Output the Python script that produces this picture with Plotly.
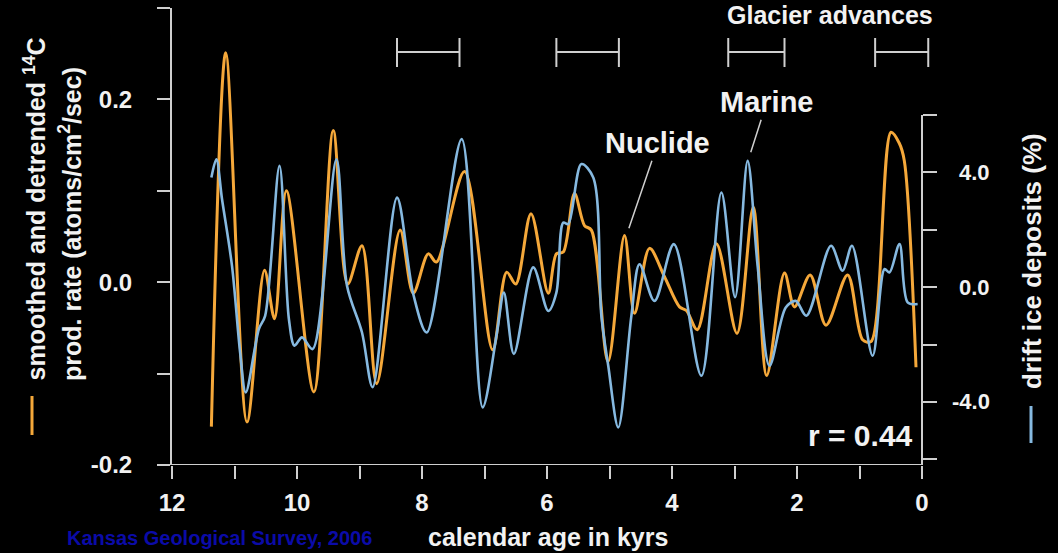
import plotly.graph_objects as go

# ---------------- data ----------------
nuclide_age = [11.37, 11.14, 10.80, 10.52, 10.36, 10.17, 9.73, 9.42, 9.19, 8.96,
               8.725, 8.35, 8.14, 7.90, 7.77, 7.32, 6.87, 6.645, 6.50, 6.256,
               5.98, 5.85, 5.74, 5.56, 5.40, 5.29, 5.024, 4.76, 4.60, 4.36,
               4.12, 3.88, 3.77, 3.595, 3.29, 2.96, 2.70, 2.485, 2.20, 2.04,
               1.79, 1.536, 1.19, 0.95, 0.816, 0.496, 0.363, 0.283, 0.096]
nuclide_rate = [-0.158, 0.251, -0.153, 0.013, -0.040, 0.100, -0.120, 0.166, -0.002, 0.040,
                -0.111, 0.057, -0.012, 0.031, 0.022, 0.121, -0.074, 0.011, -0.002, 0.075,
                -0.012, 0.031, 0.033, 0.097, 0.062, 0.057, -0.087, 0.051, -0.034, 0.037,
                0.006, -0.027, -0.031, -0.052, 0.042, -0.056, 0.082, -0.102, 0.010, -0.027,
                0.008, -0.047, 0.008, -0.063, -0.065, 0.164, 0.152, 0.133, -0.093]

marine_age = [11.37, 11.29, 11.20, 11.04, 10.91, 10.82, 10.61, 10.51, 10.28, 10.13,
              10.04, 9.92, 9.75, 9.37, 9.20, 8.96, 8.79, 8.40, 8.14, 7.925,
              7.365, 7.03, 6.80, 6.69, 6.53, 6.22, 5.98, 5.85, 5.74, 5.66,
              5.45, 5.26, 5.13, 5.02, 4.86, 4.65, 4.52, 4.28, 3.97, 3.53,
              3.21, 2.99, 2.79, 2.63, 2.44, 2.18, 2.02, 1.85, 1.456, 1.27,
              1.12, 0.79, 0.60, 0.52, 0.36, 0.23, 0.07]
marine_ice = [3.82, 4.46, 3.07, 0.74, -2.28, -3.67, -1.46, -1.00, 4.23, -1.11,
              -2.04, -1.75, -2.16, 4.46, 0.05, -1.58, -3.49, 3.12, -0.24, -1.58,
              5.16, -4.19, -1.58, -0.19, -2.33, 0.69, -0.83, -0.19, 2.25, 2.20,
              4.29, 3.82, -1.00, -2.74, -4.89, -1.00, 0.80, -0.48, 1.50, -3.09,
              3.30, -0.35, 4.40, 0.74, -2.74, -0.71, -0.48, -1.00, 1.44, 0.57,
              1.44, -2.39, 0.63, 0.51, 1.50, -0.53, -0.59]

glacier_start = [8.4, 5.85, 3.1, 0.75]
glacier_end = [7.4, 4.85, 2.2, -0.1]

x_tickvals = [0, 2, 4, 6, 8, 10, 12]
x_ticktext = ["0", "2", "4", "6", "8", "10", "12"]
left_tickvals = [-0.2, 0.0, 0.2]
left_ticktext = ["-0.2", "0.0", "0.2"]
right_tickvals = [-6, -4, -2, 0, 2, 4, 6]
right_labelvals = [-4, 0, 4]
right_labeltext = ["-4.0", "0.0", "4.0"]
correlation = 0.44

# ---------------- style ----------------
W, H = 1058, 553
ML, MR, MT, MB = 172, 118, 8, 88
PW, PH = W - ML - MR, H - MT - MB
FONT = "Liberation Sans, Arial, sans-serif"
ORANGE = "#f5a83a"
BLUE = "#86b9e0"
AXC = "#cfcfcf"
TXT = "#f2f2f2"
KYR_PX = 62.5

def px(xp):
    return (xp - ML) / PW

def py(yp):
    return (H - MB - yp) / PH

x_right = 12 - PW / KYR_PX

fig = go.Figure()
fig.add_trace(go.Scatter(x=marine_age, y=marine_ice, yaxis="y2", mode="lines",
                         line=dict(color=BLUE, width=2.6, shape="spline", smoothing=0.9),
                         hoverinfo="skip", showlegend=False))
fig.add_trace(go.Scatter(x=nuclide_age, y=nuclide_rate, yaxis="y", mode="lines",
                         line=dict(color=ORANGE, width=3, shape="spline", smoothing=0.9),
                         hoverinfo="skip", showlegend=False))

shapes = []
shapes.append(dict(type="line", xref="x", yref="y", x0=12, x1=0, y0=-0.2, y1=-0.2,
                   line=dict(color=AXC, width=2)))
shapes.append(dict(type="line", xref="x", yref="y2", x0=0, x1=0, y0=-6.2, y1=6,
                   line=dict(color=AXC, width=2)))
for s, e in zip(glacier_start, glacier_end):
    shapes.append(dict(type="line", xref="x", yref="paper", x0=s, x1=e, y0=py(52), y1=py(52),
                       line=dict(color=AXC, width=2)))
    for xv in (s, e):
        shapes.append(dict(type="line", xref="x", yref="paper", x0=xv, x1=xv, y0=py(38), y1=py(67),
                           line=dict(color=AXC, width=2)))
shapes.append(dict(type="line", xref="paper", yref="paper", x0=px(32), x1=px(32), y0=py(396), y1=py(435),
                   line=dict(color=ORANGE, width=3)))
shapes.append(dict(type="line", xref="paper", yref="paper", x0=px(1031), x1=px(1031), y0=py(406), y1=py(443),
                   line=dict(color=BLUE, width=3)))

ann = []
for v, t in zip(right_labelvals, right_labeltext):
    ann.append(dict(text=t, xref="paper", yref="y2", x=px(992), y=v, xanchor="right", yanchor="middle",
                    showarrow=False, font=dict(family=FONT, size=22, color=TXT, weight="bold")))
ann.append(dict(text="smoothed and detrended <sup>14</sup>C", xref="paper", yref="paper",
                x=px(34), y=py(383), xanchor="center", yanchor="bottom", textangle=-90, showarrow=False,
                font=dict(family=FONT, size=25, color=TXT, weight="bold")))
ann.append(dict(text="prod. rate (atoms/cm<sup>2</sup>/sec)", xref="paper", yref="paper",
                x=px(70), y=py(383), xanchor="center", yanchor="bottom", textangle=-90, showarrow=False,
                font=dict(family=FONT, size=25, color=TXT, weight="bold")))
ann.append(dict(text="drift ice deposits (%)", xref="paper", yref="paper",
                x=px(1032), y=py(391), xanchor="center", yanchor="bottom", textangle=-90, showarrow=False,
                font=dict(family=FONT, size=26, color=TXT, weight="bold")))
ann.append(dict(text="Glacier advances", xref="paper", yref="paper", x=px(830), y=py(15),
                xanchor="center", yanchor="middle", showarrow=False,
                font=dict(family=FONT, size=25, color=TXT, weight="bold")))
ann.append(dict(text="calendar age in kyrs", xref="paper", yref="paper", x=px(548), y=py(537),
                xanchor="center", yanchor="middle", showarrow=False,
                font=dict(family=FONT, size=25, color=TXT, weight="bold")))
ann.append(dict(text="Kansas Geological Survey, 2006", xref="paper", yref="paper", x=px(65), y=py(538),
                xanchor="left", yanchor="middle", showarrow=False,
                font=dict(family=FONT, size=20, color="#0b0ba8", weight="bold")))
ann.append(dict(text=f"r = {correlation:.2f}", xref="paper", yref="paper", x=px(915), y=py(435),
                xanchor="right", yanchor="middle", showarrow=False,
                font=dict(family=FONT, size=30, color=TXT, weight="bold")))
ann.append(dict(text="Nuclide", xref="x", yref="y", x=4.69, y=0.059, ax=29, ay=-85,
                showarrow=True, arrowhead=0, arrowwidth=1.5, arrowcolor=AXC, standoff=0,
                font=dict(family=FONT, size=29, color=TXT, weight="bold")))
ann.append(dict(text="Marine", xref="x", yref="y2", x=2.74, y=4.7, ax=16, ay=-50,
                showarrow=True, arrowhead=0, arrowwidth=1.5, arrowcolor=AXC, standoff=0,
                font=dict(family=FONT, size=29, color=TXT, weight="bold")))

fig.update_layout(
    width=W, height=H,
    margin=dict(l=ML, r=MR, t=MT, b=MB, pad=0),
    paper_bgcolor="black", plot_bgcolor="black",
    showlegend=False,
    xaxis=dict(range=[12, x_right], tickvals=x_tickvals, ticktext=x_ticktext,
               ticks="outside", ticklen=13, tickwidth=2, tickcolor=AXC,
               minor=dict(dtick=1, tick0=0, ticks="outside", ticklen=13, tickwidth=2, tickcolor=AXC,
                          showgrid=False),
               showline=False, showgrid=False, zeroline=False, ticklabelstandoff=3,
               tickfont=dict(family=FONT, size=24, color=TXT, weight="bold")),
    yaxis=dict(range=[-0.2, 0.3], tickvals=left_tickvals, ticktext=left_ticktext,
               ticks="outside", ticklen=13, tickwidth=2, tickcolor=AXC,
               minor=dict(dtick=0.1, tick0=0, ticks="outside", ticklen=13, tickwidth=2, tickcolor=AXC,
                          showgrid=False),
               showline=True, linecolor=AXC, linewidth=2, showgrid=False, zeroline=False,
               ticklabelstandoff=20,
               tickfont=dict(family=FONT, size=24, color=TXT, weight="bold")),
    yaxis2=dict(range=[-6.2, 9.73], overlaying="y", anchor="free", position=px(922), side="right",
                tickvals=right_tickvals, ticks="outside", ticklen=14, tickwidth=2, tickcolor=AXC,
                showticklabels=False, showline=False, showgrid=False, zeroline=False),
    shapes=shapes,
    annotations=ann,
)

fig.write_html("out.html", config={"displayModeBar": False},
               post_script="document.body.style.margin='0';")
